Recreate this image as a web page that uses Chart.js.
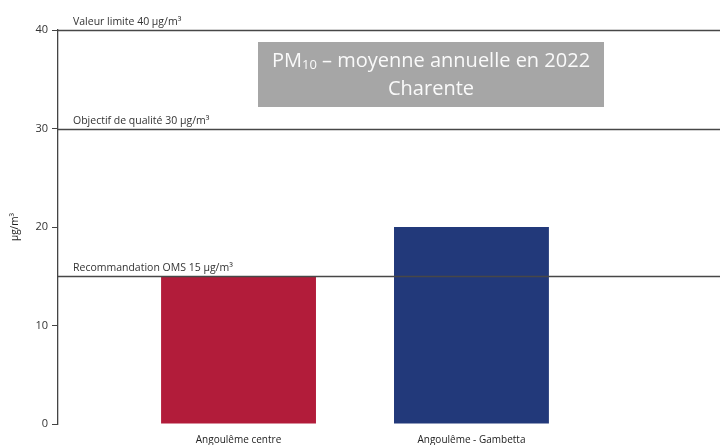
<!DOCTYPE html>
<html>
<head>
<meta charset="utf-8">
<script src="https://cdn.jsdelivr.net/npm/chart.js@4.4.0/dist/chart.umd.min.js"></script>
<style>
  html, body { margin: 0; padding: 0; background: #fff; }
  #wrap { width: 720px; height: 445px; }
</style>
</head>
<body>
<div id="wrap"><canvas id="myChart"></canvas></div>
<script>
// stations and annual PM10 means
let sites = ['Angoulême centre', 'Angoulême - Gambetta'];
let means = [15, 20];
let bar_colors = ['#b21c3a', '#22397a'];

// regulatory thresholds drawn as horizontal lines
let limits = [40, 30, 15];
let limit_labels = ['Valeur limite 40 µg/m³', 'Objectif de qualité 30 µg/m³', 'Recommandation OMS 15 µg/m³'];

let y_ticks = [0, 10, 20, 30, 40];
let title_lines = ['PM|10| – moyenne annuelle en 2022', 'Charente'];

const FONT = "'Open Sans', 'Noto Sans', sans-serif";

const limitLines = {
  id: 'limitLines',
  afterDatasetsDraw(chart) {
    const ctx = chart.ctx;
    const y = chart.scales.y;
    const left = chart.chartArea.left;
    ctx.save();
    for (let i = 0; i < limits.length; i++) {
      let py = Math.round(y.getPixelForValue(limits[i])) + 0.5;
      ctx.strokeStyle = '#474747';
      ctx.lineWidth = 1.7;
      ctx.beginPath();
      ctx.moveTo(left, py);
      ctx.lineTo(chart.width, py);
      ctx.stroke();
      ctx.fillStyle = '#333';
      ctx.font = '10.5px ' + FONT;
      ctx.textAlign = 'left';
      ctx.textBaseline = 'alphabetic';
      ctx.fillText(limit_labels[i], left + 15, py - 6);
    }
    ctx.restore();
  }
};

const titleBox = {
  id: 'titleBox',
  afterDraw(chart) {
    const ctx = chart.ctx;
    ctx.save();
    ctx.fillStyle = '#a6a6a6';
    ctx.fillRect(258, 42, 346, 65);
    ctx.fillStyle = '#fafafa';
    ctx.textBaseline = 'middle';
    let cx = 431;
    for (let l = 0; l < title_lines.length; l++) {
      let parts = title_lines[l].split('|');
      let sizes = parts.map((p, k) => (k % 2 == 1) ? 13 : 20);
      let widths = parts.map((p, k) => {
        ctx.font = sizes[k] + 'px ' + FONT;
        return ctx.measureText(p).width;
      });
      let total = widths.reduce((a, b) => a + b, 0);
      let x = cx - total / 2;
      let cy = 61 + l * 28;
      for (let k = 0; k < parts.length; k++) {
        ctx.font = sizes[k] + 'px ' + FONT;
        ctx.textAlign = 'left';
        ctx.fillText(parts[k], x, (k % 2 == 1) ? cy + 4 : cy);
        x += widths[k];
      }
    }
    ctx.restore();
  }
};

let config = {
  type: 'bar',
  data: {
    datasets: [{
      data: sites.map((s, i) => ({ x: i + 1, y: means[i] })),
      backgroundColor: bar_colors,
      borderWidth: 0,
      barPercentage: 0.665,
      categoryPercentage: 1
    }]
  },
  options: {
    responsive: true,
    maintainAspectRatio: false,
    animation: false,
    layout: { padding: { top: 30, right: 0, bottom: 0, left: 0 } },
    plugins: {
      legend: { display: false },
      tooltip: { enabled: false }
    },
    scales: {
      x: {
        type: 'linear',
        offset: false,
        min: 0.225,
        max: 3.067,
        grid: { display: false },
        border: { display: false },
        afterBuildTicks(scale) {
          scale.ticks = sites.map((s, i) => ({ value: i + 1 }));
        },
        afterFit(scale) { scale.height = 21; },
        ticks: {
          padding: 2,
          color: '#222',
          font: { family: FONT, size: 10 },
          maxRotation: 0,
          callback(value) {
            return sites[value - 1];
          }
        }
      },
      y: {
        min: 0,
        max: 40,
        afterBuildTicks(scale) {
          scale.ticks = y_ticks.map(v => ({ value: v }));
        },
        afterFit(scale) { scale.width = 58; },
        grid: { drawOnChartArea: false, drawTicks: true, tickLength: 6, color: '#444', lineWidth: 1 },
        border: { display: true, color: '#444', width: 1.3 },
        ticks: {
          padding: 4,
          color: '#333',
          font: { family: FONT, size: 11 }
        },
        title: {
          display: true,
          text: 'µg/m³',
          color: '#222',
          font: { family: FONT, size: 10 },
          padding: { top: 9, bottom: 0 }
        }
      }
    }
  },
  plugins: [limitLines, titleBox]
};

const ctx = document.getElementById('myChart');
window.chart = new Chart(ctx, config);
</script>
</body>
</html>
